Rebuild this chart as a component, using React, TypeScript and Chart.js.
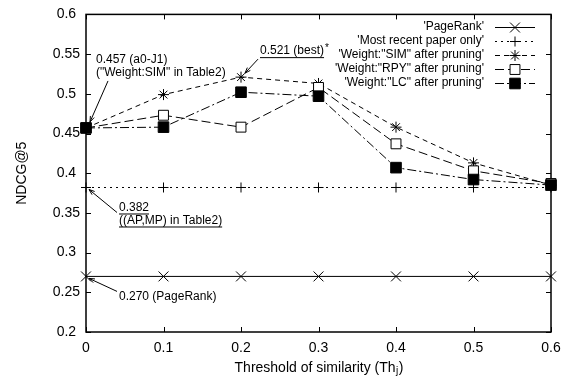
import React, { useEffect, useRef } from "react";
import { Chart, registerables } from "chart.js";
Chart.register(...registerables);

const thresholds = [0, 0.1, 0.2, 0.3, 0.4, 0.5, 0.6];
const pageRank = [0.27, 0.27, 0.27, 0.27, 0.27, 0.27, 0.27];
const mostRecent = [0.382, 0.382, 0.382, 0.382, 0.382, 0.382, 0.382];
const weightSim = [0.457, 0.499, 0.521, 0.513, 0.458, 0.413, 0.385];
const weightRpy = [0.457, 0.473, 0.458, 0.508, 0.437, 0.403, 0.387];
const weightLc = [0.457, 0.458, 0.502, 0.497, 0.407, 0.392, 0.385];
const seriesLabels = [
  "'PageRank'",
  "'Most recent paper only'",
  "'Weight:\"SIM\" after pruning'",
  "'Weight:\"RPY\" after pruning'",
  "'Weight:\"LC\" after pruning'",
];
const xTickValues = [0, 0.1, 0.2, 0.3, 0.4, 0.5, 0.6];
const yTickValues = [0.2, 0.25, 0.3, 0.35, 0.4, 0.45, 0.5, 0.55, 0.6];
const yTitle = "NDCG@5";
const xTitleMain = "Threshold of similarity (Th";
const xTitleSub = "j";
const xTitleEnd = ")";

const FONT = "'Liberation Sans', Arial, sans-serif";

type Style = {
  dash: number[];
  point: string;
  radius: number;
  fill: string;
};
const styles: Style[] = [
  { dash: [], point: "crossRot", radius: 7, fill: "#000" },
  { dash: [2, 4], point: "cross", radius: 5, fill: "#000" },
  { dash: [5, 4], point: "star", radius: 5.5, fill: "#000" },
  { dash: [9, 4], point: "rect", radius: 7, fill: "#fff" },
  { dash: [9, 3, 2, 3], point: "rect", radius: 7.5, fill: "#000" },
];
const seriesData = [pageRank, mostRecent, weightSim, weightRpy, weightLc];

function drawMarker(ctx: CanvasRenderingContext2D, s: Style, x: number, y: number) {
  const r = s.radius;
  ctx.save();
  ctx.setLineDash([]);
  ctx.lineWidth = 1;
  ctx.strokeStyle = "#000";
  ctx.fillStyle = s.fill;
  ctx.beginPath();
  const d = r * Math.SQRT1_2;
  if (s.point === "crossRot" || s.point === "star") {
    ctx.moveTo(x - d, y - d);
    ctx.lineTo(x + d, y + d);
    ctx.moveTo(x - d, y + d);
    ctx.lineTo(x + d, y - d);
  }
  if (s.point === "cross" || s.point === "star") {
    ctx.moveTo(x - r, y);
    ctx.lineTo(x + r, y);
    ctx.moveTo(x, y - r);
    ctx.lineTo(x, y + r);
  }
  if (s.point === "rect") {
    ctx.rect(x - d, y - d, 2 * d, 2 * d);
    ctx.fill();
  }
  ctx.stroke();
  ctx.restore();
}

function arrow(ctx: CanvasRenderingContext2D, x1: number, y1: number, x2: number, y2: number) {
  ctx.save();
  ctx.setLineDash([]);
  ctx.strokeStyle = "#000";
  ctx.lineWidth = 1;
  ctx.beginPath();
  ctx.moveTo(x1, y1);
  ctx.lineTo(x2, y2);
  const a = Math.atan2(y2 - y1, x2 - x1);
  const L = 6;
  const sp = 0.35;
  ctx.moveTo(x2, y2);
  ctx.lineTo(x2 - L * Math.cos(a - sp), y2 - L * Math.sin(a - sp));
  ctx.moveTo(x2, y2);
  ctx.lineTo(x2 - L * Math.cos(a + sp), y2 - L * Math.sin(a + sp));
  ctx.stroke();
  ctx.restore();
}

function text(ctx: CanvasRenderingContext2D, t: string, x: number, y: number, underline = false) {
  ctx.fillText(t, x, y);
  if (underline) {
    const w = ctx.measureText(t).width;
    ctx.beginPath();
    ctx.moveTo(x, y + 6.5);
    ctx.lineTo(x + w, y + 6.5);
    ctx.stroke();
  }
}

const framePlugin = {
  id: "frame",
  beforeDatasetsDraw(chart: any) {
    const ctx: CanvasRenderingContext2D = chart.ctx;
    const { left, right, top, bottom } = chart.chartArea;
    const xs = chart.scales.x;
    const ys = chart.scales.y;
    ctx.save();
    ctx.strokeStyle = "#000";
    ctx.lineWidth = 1;
    ctx.beginPath();
    const tl = 5;
    yTickValues.forEach((v) => {
      const y = Math.round(ys.getPixelForValue(v)) + 0.5;
      ctx.moveTo(left, y);
      ctx.lineTo(left + tl, y);
      ctx.moveTo(right, y);
      ctx.lineTo(right - tl, y);
    });
    xTickValues.forEach((v) => {
      const x = Math.round(xs.getPixelForValue(v)) + 0.5;
      ctx.moveTo(x, bottom);
      ctx.lineTo(x, bottom - tl);
      ctx.moveTo(x, top);
      ctx.lineTo(x, top + tl);
    });
    ctx.stroke();
    ctx.lineWidth = 1.5;
    ctx.strokeRect(left, top, right - left, bottom - top);
    ctx.restore();
  },
  afterDraw(chart: any) {
    const ctx: CanvasRenderingContext2D = chart.ctx;
    const { left, right, top, bottom } = chart.chartArea;
    const xs = chart.scales.x;
    const ys = chart.scales.y;
    ctx.save();
    // axis titles
    ctx.fillStyle = "#000";
    ctx.strokeStyle = "#000";
    ctx.textBaseline = "middle";
    ctx.font = `14px ${FONT}`;
    const w1 = ctx.measureText(xTitleMain).width;
    ctx.font = `10px ${FONT}`;
    const w2 = ctx.measureText(xTitleSub).width;
    ctx.font = `14px ${FONT}`;
    const w3 = ctx.measureText(xTitleEnd).width;
    const cx = (left + right) / 2;
    let tx = cx - (w1 + w2 + w3) / 2;
    const ty = 368;
    ctx.textAlign = "left";
    ctx.fillText(xTitleMain, tx, ty);
    ctx.font = `10px ${FONT}`;
    ctx.fillText(xTitleSub, tx + w1 + 0.5, ty + 3);
    ctx.font = `14px ${FONT}`;
    ctx.fillText(xTitleEnd, tx + w1 + w2 + 1, ty);

    ctx.save();
    ctx.translate(22, (top + bottom) / 2);
    ctx.rotate(-Math.PI / 2);
    ctx.textAlign = "center";
    ctx.fillText(yTitle, 0, 0);
    ctx.restore();

    // legend
    ctx.font = `12px ${FONT}`;
    ctx.textAlign = "right";
    const lx1 = right - 56;
    const lx2 = right - 16;
    const lmx = right - 36;
    seriesLabels.forEach((lab, i) => {
      const y = top + 12.5 + i * 13.9;
      ctx.fillText(lab, lx1 - 11, y);
      const s = styles[i];
      ctx.save();
      ctx.setLineDash(s.dash);
      ctx.lineWidth = 1;
      ctx.beginPath();
      ctx.moveTo(lx1, Math.round(y) + 0.5);
      ctx.lineTo(lx2, Math.round(y) + 0.5);
      ctx.stroke();
      ctx.restore();
      drawMarker(ctx, s, lmx, Math.round(y) + 0.5);
    });

    // annotations
    ctx.textAlign = "left";
    ctx.font = `12px ${FONT}`;
    ctx.lineWidth = 1;
    const p0x = xs.getPixelForValue(thresholds[0]);
    const pSimY = ys.getPixelForValue(weightSim[0]);
    text(ctx, "0.457 (a0-J1)", p0x + 10, pSimY - 68);
    text(ctx, "(\"Weight:SIM\" in Table2)", p0x + 10, pSimY - 55);
    arrow(ctx, p0x + 22, pSimY - 47, p0x + 4, pSimY - 6);

    const bx = xs.getPixelForValue(thresholds[2]);
    const by = ys.getPixelForValue(weightSim[2]);
    text(ctx, "0.521 (best)", bx + 19, by - 26, true);
    const bw = ctx.measureText("0.521 (best)").width;
    ctx.font = `10px ${FONT}`;
    ctx.fillText("*", bx + 19 + bw + 1, by - 29);
    ctx.font = `12px ${FONT}`;
    arrow(ctx, bx + 17, by - 18, bx + 4, by - 4);

    const my = ys.getPixelForValue(mostRecent[0]);
    text(ctx, "0.382", p0x + 33, my + 20, true);
    text(ctx, "((AP,MP) in Table2)", p0x + 33, my + 33, true);
    arrow(ctx, p0x + 31, my + 25, p0x + 3, my + 2);

    const py = ys.getPixelForValue(pageRank[0]);
    text(ctx, "0.270 (PageRank)", p0x + 33, py + 20);
    arrow(ctx, p0x + 31, py + 15, p0x + 3, py + 2);
    ctx.restore();
  },
};

export default function App() {
  const ref = useRef<HTMLCanvasElement | null>(null);
  useEffect(() => {
    if (!ref.current) return;
    const datasets = seriesData.map((vals, i) => {
      const s = styles[i];
      return {
        label: seriesLabels[i],
        data: vals.map((v, j) => ({ x: thresholds[j], y: v })),
        order: seriesData.length - 1 - i,
        borderColor: "#000",
        borderWidth: 1,
        borderDash: s.dash,
        pointStyle: s.point,
        pointRadius: s.radius,
        pointHoverRadius: s.radius,
        pointBackgroundColor: s.fill,
        pointBorderColor: "#000",
        pointBorderWidth: 1,
        tension: 0,
        fill: false,
        clip: false as any,
      };
    });
    const chart = new Chart(ref.current, {
      type: "line",
      data: { datasets },
      options: {
        animation: false,
        responsive: false,
        events: [],
        layout: { padding: { left: 46, right: 22, top: 12, bottom: 0 } },
        plugins: { legend: { display: false }, tooltip: { enabled: false }, title: { display: false } },
        scales: {
          x: {
            type: "linear",
            min: 0,
            max: 0.6,
            grid: { display: false, drawTicks: false },
            border: { display: false },
            afterFit: (scale: any) => {
              scale.height = 48;
            },
            afterBuildTicks: (scale: any) => {
              scale.ticks = xTickValues.map((v) => ({ value: v }));
            },
            ticks: {
              color: "#000",
              font: { family: FONT, size: 14 },
              padding: 8,
              maxRotation: 0,
              autoSkip: false,
              callback: (v: any) => String(Number(Number(v).toFixed(2))),
            },
          },
          y: {
            type: "linear",
            min: 0.2,
            max: 0.6,
            grid: { display: false, drawTicks: false },
            border: { display: false },
            afterFit: (scale: any) => {
              scale.width = 40;
            },
            afterBuildTicks: (scale: any) => {
              scale.ticks = yTickValues.map((v) => ({ value: v }));
            },
            ticks: {
              color: "#000",
              font: { family: FONT, size: 14 },
              padding: 6,
              crossAlign: "center",
              autoSkip: false,
              callback: (v: any) => String(Number(Number(v).toFixed(2))),
            },
          },
        },
      },
      plugins: [framePlugin],
    });
    return () => chart.destroy();
  }, []);
  return (
    <div style={{ position: "fixed", left: 0, top: 0, width: 573, height: 380, background: "#fff" }}>
      <canvas ref={ref} width={573} height={380} style={{ width: 573, height: 380 }} />
    </div>
  );
}
